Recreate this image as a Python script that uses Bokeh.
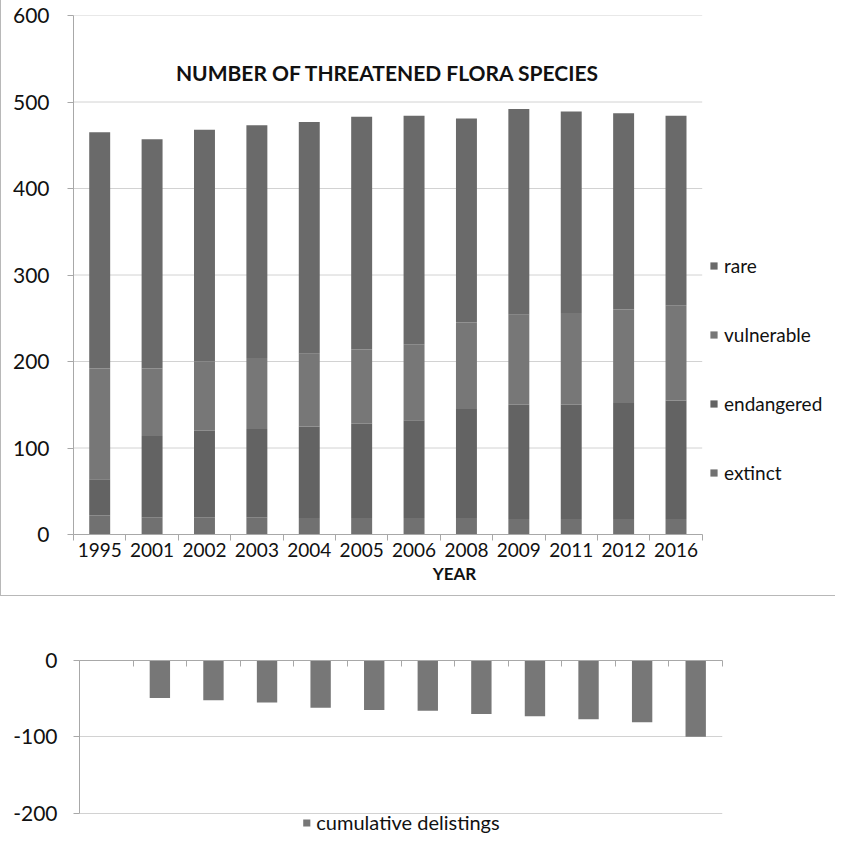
from bokeh.plotting import figure
from bokeh.models import (ColumnDataSource, Legend, LegendItem, FixedTicker, Label, Range1d)
from bokeh.layouts import column
from bokeh.embed import file_html
from bokeh.resources import INLINE

# ---------------- data ----------------
years = ["1995", "2001", "2002", "2003", "2004", "2005", "2006", "2008", "2009", "2011", "2012", "2016"]
extinct = [22, 20, 20, 20, 19, 19, 19, 19, 18, 18, 18, 18]
endangered = [42, 94, 100, 102, 106, 109, 113, 126, 132, 132, 134, 137]
vulnerable = [128, 78, 80, 82, 84, 86, 88, 100, 104, 106, 108, 110]
rare = [273, 265, 268, 269, 268, 269, 264, 236, 238, 233, 227, 219]
delistings = [0, -49, -52, -55, -62, -65, -66, -70, -73, -77, -81, -100]

series = ["extinct", "endangered", "vulnerable", "rare"]
series_colors = ["#717171", "#636363", "#777777", "#6a6a6a"]
y_ticks_top = [0, 100, 200, 300, 400, 500, 600]
y_ticks_bottom = [-200, -100, 0]

FONT = "Lato"
TXT = "#111111"
AX = "#a8a8a8"
GRID = "#d2d2d2"

n = len(years)
xs = [i + 0.5 for i in range(n)]
bounds = [float(i) for i in range(n + 1)]
X_ROOM = 1.212          # extra frame room to the right for the legend
Y_ROOM = 1.14           # extra frame room below for the bottom legend

src = ColumnDataSource(dict(x=xs, extinct=extinct, endangered=endangered,
                            vulnerable=vulnerable, rare=rare, delist=delistings))

# ---------------- top chart ----------------
p = figure(width=834, height=595, x_range=Range1d(0, n * X_ROOM), y_range=Range1d(0, 600),
           output_backend="svg", toolbar_location=None,
           min_border_left=72, min_border_right=0, min_border_top=15, min_border_bottom=61)
p.outline_line_color = None
p.xgrid.visible = False
p.ygrid.visible = False
p.segment(x0=[0] * len(y_ticks_top), x1=[n] * len(y_ticks_top), y0=y_ticks_top, y1=y_ticks_top,
          line_color=GRID, line_width=1, level="underlay")
rs = p.vbar_stack(series, x="x", width=0.4, source=src, color=series_colors, line_color=None)

p.yaxis.ticker = FixedTicker(ticks=y_ticks_top)
p.yaxis.axis_line_color = AX
p.yaxis.major_tick_line_color = AX
p.yaxis.major_tick_out = 6
p.yaxis.major_tick_in = 0
p.yaxis.minor_tick_line_color = None
p.yaxis.major_label_text_font = FONT
p.yaxis.major_label_text_font_size = "21px"
p.yaxis.major_label_text_color = TXT
p.yaxis.major_label_standoff = 18

p.xaxis.bounds = (0, n)
p.xaxis.ticker = FixedTicker(ticks=xs, minor_ticks=bounds)
p.xaxis.major_label_overrides = {x: y for x, y in zip(xs, years)}
p.xaxis.major_tick_line_color = None
p.xaxis.minor_tick_line_color = AX
p.xaxis.minor_tick_out = 6
p.xaxis.minor_tick_in = 0
p.xaxis.axis_line_color = AX
p.xaxis.major_label_text_font = FONT
p.xaxis.major_label_text_font_size = "19px"
p.xaxis.major_label_text_color = TXT
p.xaxis.major_label_standoff = 2
p.xaxis.axis_label = "YEAR"
p.xaxis.axis_label_text_font = FONT
p.xaxis.axis_label_text_font_style = "bold"
p.xaxis.axis_label_text_font_size = "17px"
p.xaxis.axis_label_text_color = TXT
p.xaxis.axis_label_standoff = 3

title = Label(x=n / 2, y=534, text="NUMBER OF THREATENED FLORA SPECIES",
              text_align="center", text_baseline="middle", text_font=FONT,
              text_font_style="bold", text_font_size="21px", text_color=TXT)
p.add_layout(title)

items = [LegendItem(label=s, renderers=[r]) for s, r in zip(series, rs)][::-1]
leg = Legend(items=items, location=(636, 50), spacing=46, glyph_width=9, glyph_height=9,
             label_text_font=FONT, label_text_font_size="19px", label_text_color=TXT,
             label_standoff=6, border_line_color=None, background_fill_alpha=0,
             padding=0, margin=0)
p.add_layout(leg, "center")

top = column(p, styles={"border-left": "1px solid #b8b8b8", "border-bottom": "1px solid #b8b8b8"})

# ---------------- bottom chart ----------------
p2 = figure(width=834, height=238, x_range=Range1d(0, n), y_range=Range1d(-200 * Y_ROOM, 0),
            output_backend="svg", toolbar_location=None, x_axis_location="above",
            min_border_left=79, min_border_right=112, min_border_top=64, min_border_bottom=0)
p2.outline_line_color = None
r2 = p2.vbar(x="x", top="delist", bottom=0, width=0.38, source=src, color="#777777",
             line_color=None)
p2.xgrid.visible = False
p2.ygrid.ticker = FixedTicker(ticks=y_ticks_bottom)
p2.ygrid.grid_line_color = GRID

p2.yaxis.bounds = (-200, 0)
p2.yaxis.ticker = FixedTicker(ticks=y_ticks_bottom)
p2.yaxis.major_label_overrides = {t: str(t) for t in y_ticks_bottom}
p2.yaxis.axis_line_color = AX
p2.yaxis.major_tick_line_color = AX
p2.yaxis.major_tick_out = 6
p2.yaxis.major_tick_in = 0
p2.yaxis.minor_tick_line_color = None
p2.yaxis.major_label_text_font = FONT
p2.yaxis.major_label_text_font_size = "21px"
p2.yaxis.major_label_text_color = TXT
p2.yaxis.major_label_standoff = 16

p2.xaxis.ticker = FixedTicker(ticks=[], minor_ticks=bounds)
p2.xaxis.axis_line_color = AX
p2.xaxis.minor_tick_line_color = AX
p2.xaxis.minor_tick_in = 6
p2.xaxis.minor_tick_out = 0

lg2 = Legend(items=[LegendItem(label="cumulative delistings", renderers=[r2])],
             location="bottom_center", orientation="horizontal", glyph_width=9, glyph_height=9,
             label_text_font=FONT, label_text_font_size="20px", label_text_color=TXT,
             label_standoff=6, border_line_color=None, background_fill_alpha=0,
             padding=0, margin=0)
p2.add_layout(lg2, "center")

layout = column(top, p2)
open("out.html", "w").write(file_html(layout, INLINE))
